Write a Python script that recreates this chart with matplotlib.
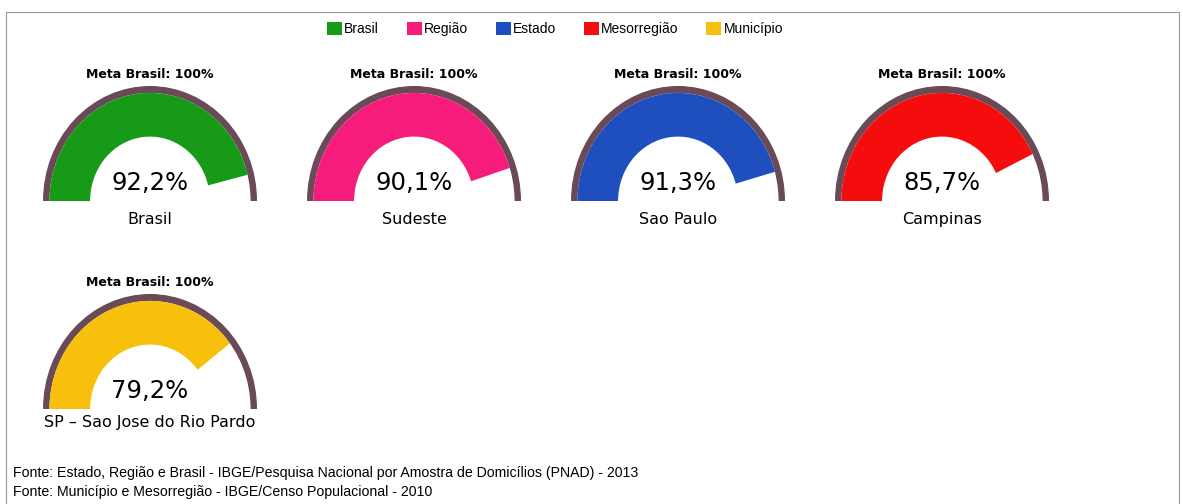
#!/usr/bin/env python3
"""Gauges de cobertura vs. meta Brasil (100%)."""
import matplotlib; matplotlib.use("Agg")
import matplotlib.pyplot as plt
from matplotlib.patches import Wedge, Patch, Rectangle

labels  = ["Brasil", "Sudeste", "Sao Paulo", "Campinas", "SP – Sao Jose do Rio Pardo"]
values  = [92.2, 90.1, 91.3, 85.7, 79.2]
meta    = 100
levels  = ["Brasil", "Região", "Estado", "Mesorregião", "Município"]
colors  = ["#179a18", "#f51c7c", "#1f4fbf", "#f50d0d", "#f7c00c"]
fontes  = ["Fonte: Estado, Região e Brasil - IBGE/Pesquisa Nacional por Amostra de Domicílios (PNAD) - 2013",
           "Fonte: Município e Mesorregião - IBGE/Censo Populacional - 2010"]

W, H = 1183, 504
RX, RY = 107, 115           # gauge radius in px (slightly taller than wide)
RING, INNER = 0.06, 0.56
BROWN = "#6b4a57"

def main():
    fig = plt.figure(figsize=(W/100, H/100), dpi=100)
    fig.patches.append(Rectangle((6/W, -0.1), (1179-6)/W, 1.1 - 12/H, transform=fig.transFigure,
                                 fill=False, edgecolor="#9a9a9a", lw=0.8))

    # layout: 4 per row, 264px apart
    pos = [(150 + 264*(i % 4), 201 + 208*(i // 4)) for i in range(len(values))]
    for i, (v, lab, c) in enumerate(zip(values, labels, colors)):
        cx, base = pos[i]
        l, r, t, b = cx - 135, cx + 135, base - 145, base + 30
        ax = fig.add_axes([l/W, 1 - b/H, (r - l)/W, (b - t)/H])
        ax.set_xlim(-135/RX, 135/RX); ax.set_ylim(-30/RY, 145/RY); ax.axis("off")
        ax.add_patch(Wedge((0, 0), 1.0, 0, 180, width=RING, color=BROWN, lw=0))
        rf = 1.0 - RING
        ax.add_patch(Wedge((0, 0), rf, 180*(1 - v/meta), 180, width=rf - INNER, color=c, lw=0))
        ax.text(0, 126/RY, f"Meta Brasil: {meta}%", ha="center", va="center",
                fontsize=9, fontweight="semibold")
        ax.text(0, 0.155, f"{v:.1f}%".replace(".", ","), ha="center", va="center", fontsize=17.5)
        ax.text(0, -0.165 if i < 4 else -0.12, lab, ha="center", va="center", fontsize=11.5)

    handles = [Patch(facecolor=c, edgecolor="none") for c in colors]
    fig.legend(handles, levels, loc="center", bbox_to_anchor=(555/W, 1 - 29/H), ncol=5,
               frameon=False, handlelength=1.08, handleheight=1.08, handletextpad=0.15,
               columnspacing=2.0, prop={"family": "Liberation Sans", "size": 10})

    for k, s in enumerate(fontes):
        fig.text(13/W, 1 - (473 + 19*k)/H, s, ha="left", va="center",
                 family="Liberation Sans", fontsize=10.2)

    fig.savefig("out.png", dpi=100, facecolor="white")
    plt.close(fig)

if __name__ == "__main__":
    main()
